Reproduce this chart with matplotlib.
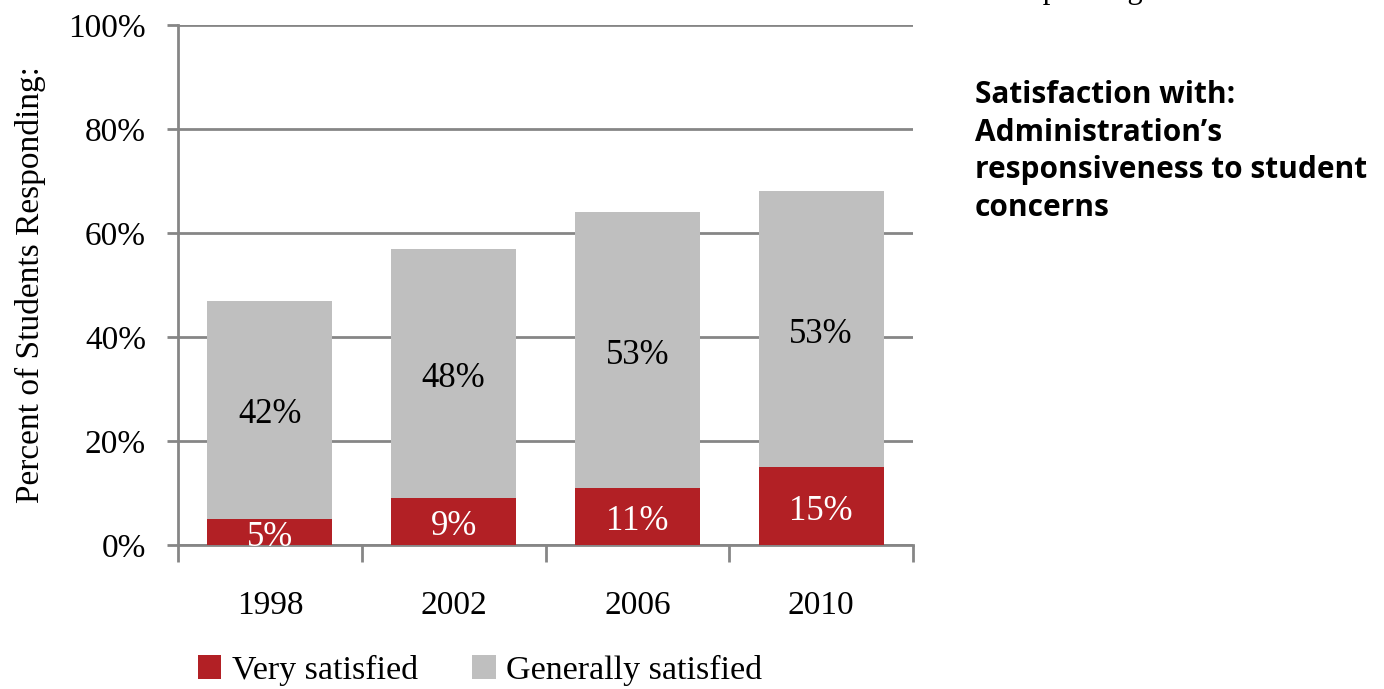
"""Stacked bar chart: satisfaction with administration's responsiveness."""

import matplotlib

matplotlib.use("Agg")
import matplotlib.pyplot as plt
import numpy as np

YEARS = ["1998", "2002", "2006", "2010"]
VERY_SATISFIED = [5, 9, 11, 15]
GENERALLY_SATISFIED = [42, 48, 53, 53]
Y_TICKS = [0, 20, 40, 60, 80, 100]

RED = "#B22025"
GRAY = "#BFBFBF"
AXIS_GRAY = "#868686"
SERIF = ["Liberation Serif", "DejaVu Serif"]

plt.rcParams["font.family"] = SERIF

fig = plt.figure(figsize=(13.84, 6.89), dpi=100)
ax = fig.add_axes((178 / 1384, 1 - 545 / 689, 735 / 1384, 520 / 689))

x = np.arange(len(YEARS))
bottom_bars = ax.bar(x, VERY_SATISFIED, width=0.68, color=RED, label="Very satisfied", zorder=3)
top_bars = ax.bar(x, GENERALLY_SATISFIED, width=0.68, bottom=VERY_SATISFIED, color=GRAY,
                  label="Generally satisfied", zorder=3)

for xi, low, high in zip(x, VERY_SATISFIED, GENERALLY_SATISFIED):
    ax.text(xi, low / 2 - 1, f"{low}%", ha="center", va="center", color="white",
            fontsize=25, zorder=4)
    ax.text(xi, low + high / 2 - 1, f"{high}%", ha="center", va="center", color="black",
            fontsize=25, zorder=4)

ax.set_xlim(-0.5, len(YEARS) - 0.5)
ax.set_ylim(0, 100)
ax.set_yticks(Y_TICKS)
ax.set_yticklabels([f"{v}%" for v in Y_TICKS], fontsize=24)
ax.yaxis.grid(True, color=AXIS_GRAY, linewidth=2, zorder=0)
ax.tick_params(axis="y", length=8, width=2, color=AXIS_GRAY, pad=15)

ax.set_xticks(x)
ax.set_xticklabels(YEARS, fontsize=24)
ax.tick_params(axis="x", length=0, pad=33)
ax.set_xticks(np.arange(len(YEARS) + 1) - 0.5, minor=True)
ax.tick_params(axis="x", which="minor", length=12, width=2, color=AXIS_GRAY)

for side in ["top", "right"]:
    ax.spines[side].set_visible(False)
for side in ["left", "bottom"]:
    ax.spines[side].set_color(AXIS_GRAY)
    ax.spines[side].set_linewidth(2)

ax.set_ylabel("Percent of Students Responding:", fontsize=24, labelpad=16)

fig.legend(handles=[bottom_bars, top_bars], loc="center", bbox_to_anchor=(480 / 1384, 1 - 670 / 689),
           ncol=2, frameon=False, fontsize=24.5, handlelength=0.7, handleheight=0.7,
           handletextpad=0.3, columnspacing=1.6)

fig.text(975 / 1384, 1 - 80 / 689,
         "Satisfaction with:\nAdministration\u2019s\nresponsiveness to student\nconcerns",
         ha="left", va="top", fontsize=21.5, fontweight="bold",
         family=["Open Sans", "DejaVu Sans"], linespacing=1.33)

# text cut off at the top edge of the original page
fig.text(997 / 1384, 1 + 2 / 689, "Responding", ha="left", va="baseline",
         fontsize=22, color="black")

fig.savefig("out.png", dpi=100)
